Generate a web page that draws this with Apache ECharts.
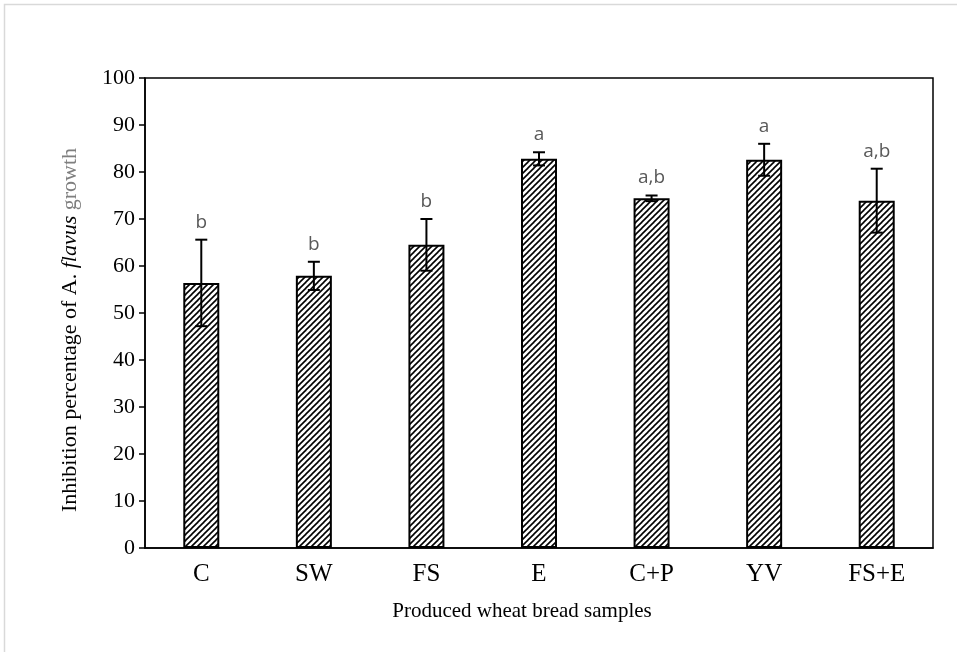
<!DOCTYPE html>
<html>
<head>
<meta charset="utf-8">
<script src="https://cdn.jsdelivr.net/npm/echarts@6/dist/echarts.min.js"></script>
<style>html,body{margin:0;padding:0;background:#fff}#chart{width:957px;height:652px}</style>
</head>
<body>
<div id="chart"></div>
<script>
const categories = ['C', 'SW', 'FS', 'E', 'C+P', 'YV', 'FS+E'];
const means = [56.4, 57.9, 64.5, 82.8, 74.4, 82.6, 73.9];
const errors = [9.2, 3.0, 5.5, 1.4, 0.6, 3.4, 6.8];
const letters = ['b', 'b', 'b', 'a', 'a,b', 'a', 'a,b'];
const yMin = 0, yMax = 100, yInterval = 10;

function makeHatch() {
  const s = 6;
  const c = document.createElement('canvas');
  c.width = s; c.height = s;
  const ctx = c.getContext('2d');
  ctx.fillStyle = '#fff';
  ctx.fillRect(0, 0, s, s);
  ctx.strokeStyle = '#000';
  ctx.lineWidth = 1.6;
  for (const o of [-s, 0, s]) {
    ctx.beginPath();
    ctx.moveTo(o - 1, s + 1);
    ctx.lineTo(o + s + 1, -1);
    ctx.stroke();
  }
  return c;
}

const chart = echarts.init(document.getElementById('chart'), null, {renderer: 'canvas'});
const serif = '"Liberation Serif", "Times New Roman", serif';

const errData = categories.map((c, i) => [i, means[i] - errors[i], means[i] + errors[i], letters[i]]);

chart.setOption({
  animation: false,
  backgroundColor: '#fff',
  graphic: [{
    type: 'rect', silent: true,
    shape: {x: 4.5, y: 4.5, width: 1000, height: 1000},
    style: {fill: 'none', stroke: '#d9d9d9', lineWidth: 1.5}
  }],
  grid: {left: 145, right: 24, top: 78, bottom: 104, show: true, borderColor: '#000', borderWidth: 1.5, backgroundColor: 'transparent'},
  xAxis: {
    type: 'category', data: categories,
    axisLine: {lineStyle: {color: '#000', width: 1.5}},
    axisTick: {show: false},
    axisLabel: {color: '#000', fontFamily: serif, fontSize: 25, margin: 14},
    name: 'Produced wheat bread samples', nameLocation: 'middle', nameGap: 53,
    nameTextStyle: {color: '#000', fontFamily: serif, fontSize: 21, padding: [0, 34, 0, 0]}
  },
  yAxis: {
    type: 'value', min: yMin, max: yMax, interval: yInterval,
    axisLine: {show: true, lineStyle: {color: '#000', width: 1.5}},
    axisTick: {show: true, length: 6, lineStyle: {color: '#000', width: 1.5}},
    splitLine: {show: false},
    axisLabel: {color: '#000', fontFamily: serif, fontSize: 22, margin: 10},
    name: '{n|Inhibition percentage of A. }{i|flavus}{g| growth}',
    nameLocation: 'middle', nameGap: 64, nameRotate: 90,
    nameTextStyle: {
      fontFamily: serif, fontSize: 22, padding: [0, 34, 0, 0],
      rich: {
        n: {fontFamily: serif, fontSize: 22, color: '#000'},
        i: {fontFamily: serif, fontSize: 22, color: '#000', fontStyle: 'italic'},
        g: {fontFamily: serif, fontSize: 22, color: '#7f7f7f'}
      }
    }
  },
  series: [{
    type: 'bar', data: means, barWidth: 36,
    itemStyle: {color: {image: makeHatch(), repeat: 'repeat'}, borderColor: '#000', borderWidth: 2},
    z: 2
  }, {
    type: 'custom', data: errData, z: 5,
    renderItem: function (params, api) {
      const i = api.value(0);
      const lo = api.coord([i, api.value(1)]);
      const hi = api.coord([i, api.value(2)]);
      const half = 6;
      return {
        type: 'group',
        children: [
          {type: 'line', shape: {x1: hi[0], y1: hi[1], x2: lo[0], y2: lo[1]}, style: {stroke: '#000', lineWidth: 2}},
          {type: 'line', shape: {x1: hi[0] - half, y1: hi[1], x2: hi[0] + half, y2: hi[1]}, style: {stroke: '#000', lineWidth: 2}},
          {type: 'line', shape: {x1: lo[0] - half, y1: lo[1], x2: lo[0] + half, y2: lo[1]}, style: {stroke: '#000', lineWidth: 2}},
          {type: 'text', style: {text: letters[params.dataIndex], x: hi[0], y: hi[1] - 8, textAlign: 'center', textVerticalAlign: 'bottom',
            fill: '#595959', font: '19px "Open Sans", "Noto Sans", sans-serif'}}
        ]
      };
    }
  }]
});
</script>
</body>
</html>
